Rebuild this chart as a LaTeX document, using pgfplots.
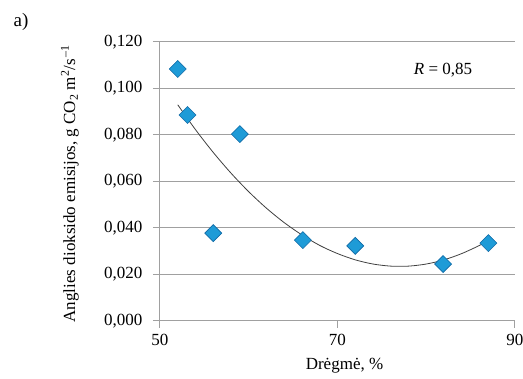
\documentclass[border=0pt]{standalone}
\usepackage{pgfplots}
\pgfplotsset{compat=1.18}
\usepackage{fontspec}
\setmainfont{Liberation Serif}
\definecolor{mfill}{RGB}{30,155,215}
\definecolor{medge}{RGB}{15,105,165}
\definecolor{gridc}{RGB}{160,160,160}
\begin{document}
\begin{tikzpicture}
\begin{axis}[
  name=ax,
  scale only axis,
  width=355pt, height=279pt,
  xmin=50, xmax=90, ymin=0, ymax=0.12,
  xtick={50,70,90},
  ytick={0,0.02,0.04,0.06,0.08,0.1,0.12},
  yticklabels={0{,}000,0{,}020,0{,}040,0{,}060,0{,}080,0{,}100,0{,}120},
  /pgf/number format/assume math mode=true,
  axis x line*=bottom, axis y line*=left,
  axis line style={gridc, line width=1pt, -},
  ymajorgrids, major grid style={gridc, line width=1pt},
  tick style={gridc, line width=1pt},
  tick align=outside,
  major tick length=7pt,
  every tick label/.style={font=\fontsize{17}{20}\selectfont, text=black},
  yticklabel style={xshift=-7pt},
  xticklabel style={yshift=-3pt},
  clip=false,
]
\addplot[color=black!75, line width=0.8pt, smooth, no marks] coordinates {
(52,0.0930) (54,0.0823) (56,0.0725) (58,0.0636) (60,0.0556) (62,0.0485)
(64,0.0423) (66,0.0370) (68,0.0325) (70,0.0290) (72,0.0263) (74,0.0245)
(76,0.0236) (78,0.0236) (80,0.0245) (82,0.0263) (84,0.0290) (86,0.0325) (87,0.0346)
};
\addplot[only marks, mark=square*, mark size=6pt,
  mark options={rotate=45, fill=mfill, draw=medge, line width=0.6pt}] coordinates {
(52.0,0.1084) (53.1,0.0886) (59.0,0.0804) (56.0,0.0378)
(66.1,0.0348) (72.0,0.0323) (81.9,0.0245) (87.0,0.0335)
};
\node[font=\fontsize{17}{20}\selectfont] at (axis cs:81.9,0.1077) {\textit{R} = 0,85};
\end{axis}
\node[font=\fontsize{17}{20}\selectfont, rotate=90] at ([xshift=-90pt,yshift=-2pt]ax.west)
  {Anglies dioksido emisijos, g CO\textsubscript{2} m\textsuperscript{2}/s\textsuperscript{\,\textendash1}};
\node[font=\fontsize{17}{20}\selectfont] at ([xshift=7pt,yshift=-45pt]ax.south) {Drėgmė, \%};
\node[font=\fontsize{19}{22}\selectfont] at ([xshift=-139pt,yshift=20pt]ax.north west) {a)};
\pgfresetboundingbox
\path[use as bounding box] (ax.south west) ++(-160pt,-58pt) rectangle ++(523pt,379pt);
\end{tikzpicture}
\end{document}
